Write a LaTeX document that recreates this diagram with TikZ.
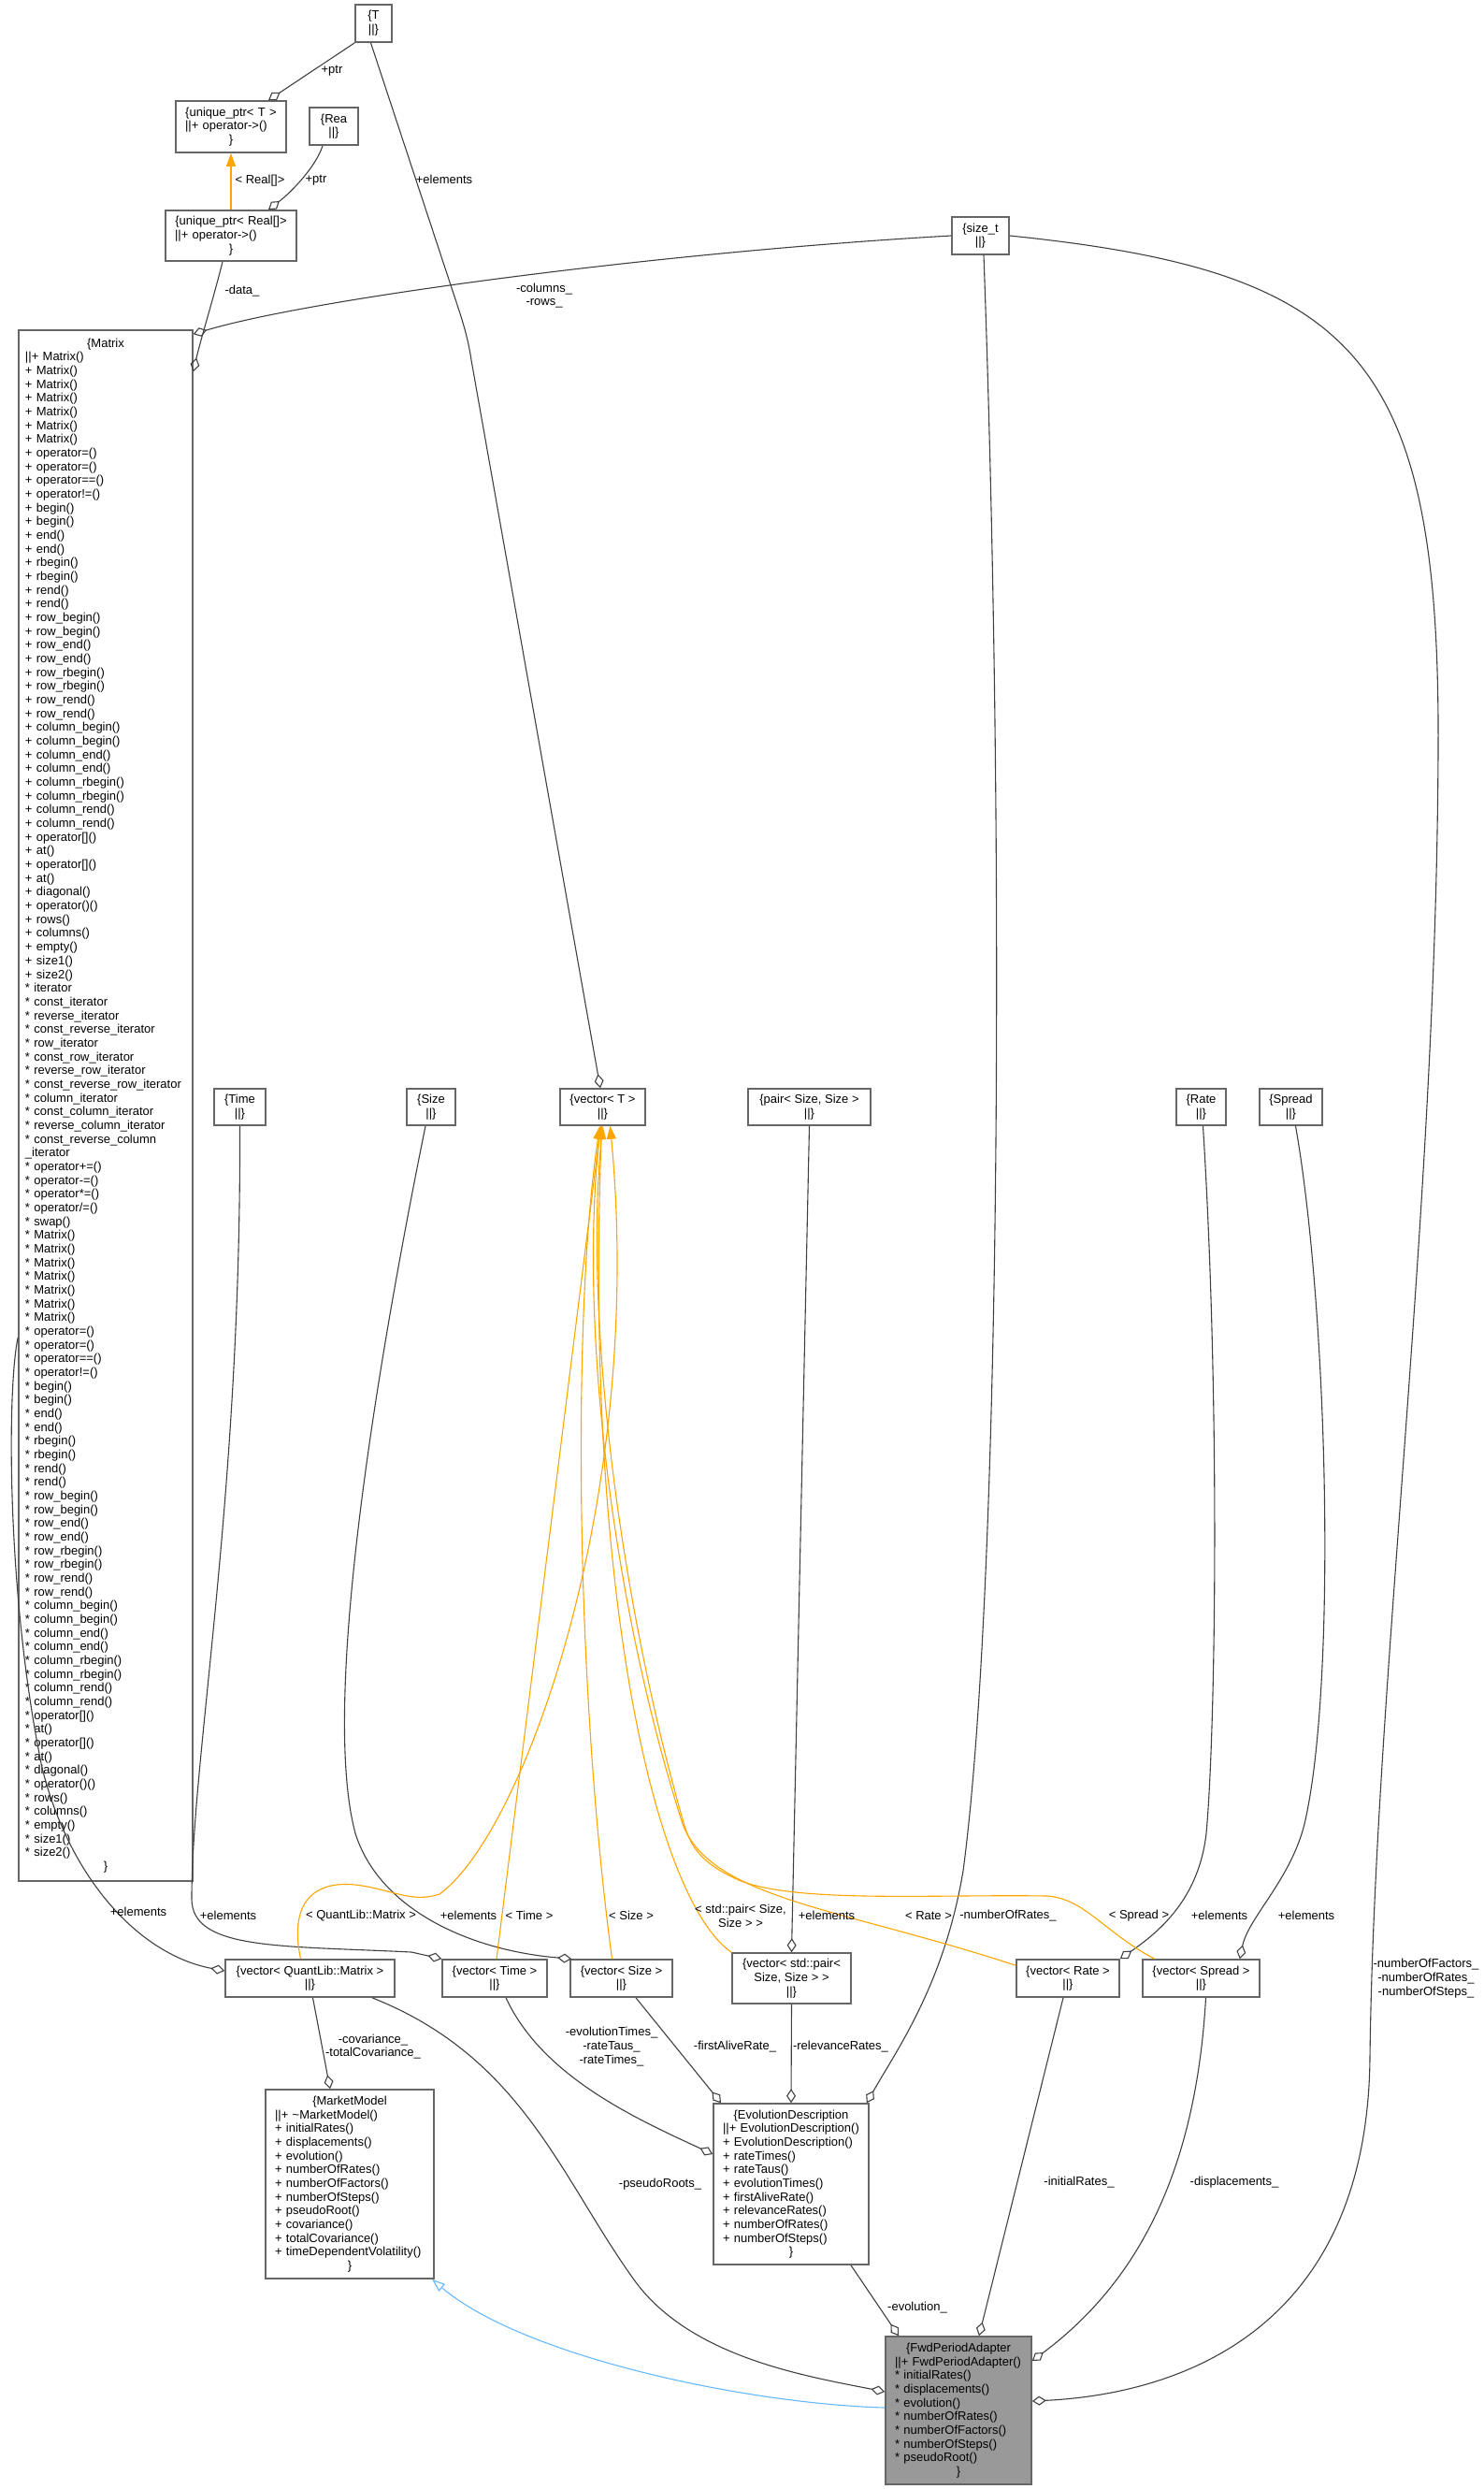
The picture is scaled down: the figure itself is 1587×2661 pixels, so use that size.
\documentclass[tikz,border=0pt]{standalone}
\usepackage{fontspec}
\setmainfont{Liberation Sans}
\usetikzlibrary{arrows.meta}
\definecolor{edgegray}{HTML}{404040}
\definecolor{boxgray}{HTML}{666666}
\definecolor{tplorange}{HTML}{FFA500}
\definecolor{inhblue}{HTML}{63B8FF}
\definecolor{curfill}{HTML}{999999}
\newcommand\ctr[1]{\makebox[\hsize][c]{#1}}
\newcommand\fnt{\fontsize{13}{14.67}\selectfont}
\tikzset{
  cls/.style={draw=boxgray, line width=1.6pt, fill=white, inner sep=0pt, font=\fnt},
  lbl/.style={font=\fnt, inner sep=0pt, align=center},
  agg/.style={draw=edgegray, line width=1.1pt, -{Diamond[open, length=15pt, width=10pt]}},
  tpl/.style={draw=tplorange, line width=1.1pt, -{Triangle[length=14pt, width=10pt]}},
  inh/.style={draw=inhblue, line width=1.1pt, -{Triangle[open, length=14pt, width=10pt]}},
}
\begin{document}
\begin{tikzpicture}[x=1pt, y=-1pt]
    \useasboundingbox (0,0) rectangle (1587,2661);

    % 1. Cac lop o tren cung
    \node[cls, minimum width=39pt, minimum height=40pt, align=center] (nT) at (399.5,25) {\{T\\||\}};
    \node[cls, minimum width=118pt, minimum height=55pt, text width=98pt, align=left] (nUptrT) at (247,135.5)
        {\ctr{\{unique\_ptr< T >}\\||+ operator->()\\\ctr{\}}};
    \node[cls, minimum width=52pt, minimum height=40pt, align=center] (nRea) at (357,135) {\{Rea\\||\}};
    \node[cls, minimum width=140pt, minimum height=54pt, text width=120pt, align=left] (nUptrReal) at (247,252)
        {\ctr{\{unique\_ptr< Real[]>}\\||+ operator->()\\\ctr{\}}};
    \node[cls, minimum width=61pt, minimum height=40pt, align=center] (nSizeT) at (1048.5,252) {\{size\_t\\||\}};

    % 2. Lop Matrix
    \node[cls, inner xsep=7pt, minimum width=186pt, minimum height=1658pt, text width=172pt, align=left] (nMatrix) at (113,1182)
        {\ctr{\{Matrix}\\||+ Matrix()\\+ Matrix()\\+ Matrix()\\+ Matrix()\\+ Matrix()\\+ Matrix()\\+ Matrix()\\
        + operator=()\\+ operator=()\\+ operator==()\\+ operator!=()\\
        + begin()\\+ begin()\\+ end()\\+ end()\\+ rbegin()\\+ rbegin()\\+ rend()\\+ rend()\\
        + row\_begin()\\+ row\_begin()\\+ row\_end()\\+ row\_end()\\+ row\_rbegin()\\+ row\_rbegin()\\+ row\_rend()\\+ row\_rend()\\
        + column\_begin()\\+ column\_begin()\\+ column\_end()\\+ column\_end()\\+ column\_rbegin()\\+ column\_rbegin()\\+ column\_rend()\\+ column\_rend()\\
        + operator[]()\\+ at()\\+ operator[]()\\+ at()\\
        + diagonal()\\+ operator()()\\+ rows()\\+ columns()\\+ empty()\\+ size1()\\+ size2()\\
        {*} iterator\\{*} const\_iterator\\{*} reverse\_iterator\\{*} const\_reverse\_iterator\\{*} row\_iterator\\{*} const\_row\_iterator\\
        {*} reverse\_row\_iterator\\\mbox{{*} const\_reverse\_row\_iterator}\\{*} column\_iterator\\{*} const\_column\_iterator\\
        {*} reverse\_column\_iterator\\{*} const\_reverse\_column\\\_iterator\\
        {*} operator+=()\\{*} operator-=()\\{*} operator*=()\\{*} operator/=()\\{*} swap()\\
        {*} Matrix()\\{*} Matrix()\\{*} Matrix()\\{*} Matrix()\\{*} Matrix()\\{*} Matrix()\\{*} Matrix()\\
        {*} operator=()\\{*} operator=()\\{*} operator==()\\{*} operator!=()\\
        {*} begin()\\{*} begin()\\{*} end()\\{*} end()\\{*} rbegin()\\{*} rbegin()\\{*} rend()\\{*} rend()\\
        {*} row\_begin()\\{*} row\_begin()\\{*} row\_end()\\{*} row\_end()\\{*} row\_rbegin()\\{*} row\_rbegin()\\{*} row\_rend()\\{*} row\_rend()\\
        {*} column\_begin()\\{*} column\_begin()\\{*} column\_end()\\{*} column\_end()\\{*} column\_rbegin()\\{*} column\_rbegin()\\{*} column\_rend()\\{*} column\_rend()\\
        {*} operator[]()\\{*} at()\\{*} operator[]()\\{*} at()\\
        {*} diagonal()\\{*} operator()()\\{*} rows()\\{*} columns()\\{*} empty()\\{*} size1()\\{*} size2()\\
        \ctr{\}}};

    % 3. Hang cac kieu co so
    \node[cls, minimum width=55pt, minimum height=39pt, align=center] (nTime) at (256.5,1183.5) {\{Time\\||\}};
    \node[cls, minimum width=52pt, minimum height=39pt, align=center] (nSize) at (461,1183.5) {\{Size\\||\}};
    \node[cls, minimum width=91pt, minimum height=39pt, align=center] (nVecT) at (644.5,1183.5) {\{vector< T >\\||\}};
    \node[cls, minimum width=131pt, minimum height=39pt, align=center] (nPair) at (865.5,1183.5) {\{pair< Size, Size >\\||\}};
    \node[cls, minimum width=53pt, minimum height=39pt, align=center] (nRate) at (1284.5,1183.5) {\{Rate\\||\}};
    \node[cls, minimum width=67pt, minimum height=39pt, align=center] (nSpread) at (1380.5,1183.5) {\{Spread\\||\}};

    % 4. Hang cac vector
    \node[cls, minimum width=181pt, minimum height=40pt, align=center] (nVecMatrix) at (331.5,2115) {\{vector< QuantLib::Matrix >\\||\}};
    \node[cls, minimum width=112pt, minimum height=40pt, align=center] (nVecTime) at (529,2115) {\{vector< Time >\\||\}};
    \node[cls, minimum width=109pt, minimum height=40pt, align=center] (nVecSize) at (664.5,2115) {\{vector< Size >\\||\}};
    \node[cls, minimum width=127pt, minimum height=54pt, align=center] (nVecPair) at (846.5,2115) {\{vector< std::pair<\\Size, Size > >\\||\}};
    \node[cls, minimum width=110pt, minimum height=40pt, align=center] (nVecRate) at (1142,2115) {\{vector< Rate >\\||\}};
    \node[cls, minimum width=125pt, minimum height=40pt, align=center] (nVecSpread) at (1284.5,2115) {\{vector< Spread >\\||\}};

    % 5. Cac lop o duoi
    \node[cls, minimum width=180pt, minimum height=202pt, text width=160pt, align=left] (nMarket) at (374,2335)
        {\ctr{\{MarketModel}\\||+ \textasciitilde MarketModel()\\+ initialRates()\\+ displacements()\\+ evolution()\\
        + numberOfRates()\\+ numberOfFactors()\\+ numberOfSteps()\\+ pseudoRoot()\\+ covariance()\\
        + totalCovariance()\\+ timeDependentVolatility()\\\ctr{\}}};
    \node[cls, minimum width=166pt, minimum height=172pt, text width=146pt, align=left] (nEvol) at (846,2335)
        {\ctr{\{EvolutionDescription}\\||+ EvolutionDescription()\\+ EvolutionDescription()\\+ rateTimes()\\+ rateTaus()\\
        + evolutionTimes()\\+ firstAliveRate()\\+ relevanceRates()\\+ numberOfRates()\\+ numberOfSteps()\\\ctr{\}}};
    \node[cls, fill=curfill, minimum width=156pt, minimum height=158pt, text width=136pt, align=left] (nFwd) at (1025,2577)
        {\ctr{\{FwdPeriodAdapter}\\||+ FwdPeriodAdapter()\\{*} initialRates()\\{*} displacements()\\{*} evolution()\\
        {*} numberOfRates()\\{*} numberOfFactors()\\{*} numberOfSteps()\\{*} pseudoRoot()\\\ctr{\}}};

    % 6. Quan he thanh vien (thoi kim cuong)
    \draw[agg] (nT.south west) -- ([xshift=40]nUptrT.north);
    \draw[agg] ([xshift=-12]nRea.south) .. controls (338,178) and (312,205) .. ([xshift=40]nUptrReal.north);
    \draw[agg] ([xshift=-9]nUptrReal.south) .. controls (228,320) and (214,365) .. ([yshift=-45]nMatrix.north east);
    \draw[agg] (nSizeT.west) .. controls (700,270) and (330,320) .. ([yshift=-5]nMatrix.north east);
    \draw[agg] ([xshift=-3]nT.south) -- (488,323) .. controls (497,350) and (501,365) .. (504,385) -- ([xshift=-2.5]nVecT.north);
    \draw[agg] ([yshift=-248]nMatrix.west) .. controls (8,1480) and (6,1700) .. (45,1890) .. controls (75,2010) and (150,2090) .. ([yshift=8]nVecMatrix.west);
    \draw[agg] (nTime.south) .. controls (258,1600) and (205,1880) .. (205,2030) .. controls (205,2085) and (300,2080) .. (440,2087) -- (nVecTime.north west);
    \draw[agg] ([xshift=-6]nSize.south) .. controls (395,1500) and (345,1830) .. (380,1960) .. controls (405,2040) and (500,2085) .. ([xshift=2]nVecSize.north west);
    \draw[agg] (nPair.south) -- (nVecPair.north);
    \draw[agg] ([xshift=2]nRate.south) .. controls (1305,1500) and (1300,1850) .. (1290,1960) .. controls (1282,2030) and (1240,2065) .. (nVecRate.north east);
    \draw[agg] ([xshift=5]nSpread.south) .. controls (1420,1400) and (1430,1800) .. (1395,1950) .. controls (1380,2010) and (1335,2050) .. ([xshift=-22]nVecSpread.north east);
    \draw[agg] ([xshift=3]nVecMatrix.south) -- ([xshift=-21]nMarket.north);
    \draw[agg] ([xshift=66.5]nVecMatrix.south) .. controls (560,2200) and (600,2330) .. (680,2440) .. controls (740,2520) and (860,2540) .. ([yshift=20]nFwd.west);
    \draw[agg] ([xshift=12]nVecTime.south) .. controls (580,2220) and (680,2265) .. ([yshift=32]nEvol.west);
    \draw[agg] ([xshift=15.5]nVecSize.south) -- ([xshift=-75]nEvol.north);
    \draw[agg] (nVecPair.south) -- (nEvol.north);
    \draw[agg] ([xshift=3.5]nSizeT.south) .. controls (1075,900) and (1070,1700) .. (1030,2000) .. controls (1010,2120) and (960,2190) .. ([xshift=-3]nEvol.north east);
    \draw[agg] (nSizeT.east) .. controls (1450,290) and (1540,380) .. (1538,800) .. controls (1536,1300) and (1470,1800) .. (1465,2200) .. controls (1462,2500) and (1250,2560) .. ([yshift=10]nFwd.east);
    \draw[agg] ([xshift=64]nEvol.south) -- ([xshift=-64]nFwd.north);
    \draw[agg] ([xshift=-5]nVecRate.south) -- ([xshift=22]nFwd.north);
    \draw[agg] ([xshift=5]nVecSpread.south) .. controls (1280,2300) and (1230,2430) .. ([yshift=53]nFwd.east);

    % 7. Cac the hien mau (cam)
    \draw[tpl] (nUptrReal.north) -- (nUptrT.south);
    \draw[tpl] ([xshift=-10]nVecMatrix.north) .. controls (310,2040) and (330,2010) .. (380,2015) .. controls (420,2020) and (440,2035) .. (470,2025) .. controls (560,1960) and (690,1600) .. ([xshift=8]nVecT.south);
    \draw[tpl] ([xshift=2]nVecTime.north) -- ([xshift=-2]nVecT.south);
    \draw[tpl] ([xshift=-10]nVecSize.north) .. controls (615,1800) and (612,1400) .. ([xshift=-3]nVecT.south);
    \draw[tpl] (nVecPair.north west) .. controls (700,2030) and (625,1700) .. ([xshift=-1]nVecT.south);
    \draw[tpl] ([yshift=-7]nVecRate.north west) .. controls (900,2040) and (760,2030) .. (730,1950) .. controls (650,1700) and (620,1400) .. ([xshift=-2]nVecT.south);
    \draw[tpl] ([xshift=-50]nVecSpread.north) .. controls (1180,2065) and (1160,2030) .. (1120,2027) .. controls (1000,2025) and (850,2035) .. (790,2010) .. controls (750,1992) and (738,1975) .. (730,1945) .. controls (660,1700) and (625,1400) .. (nVecT.south);

    % 8. Ke thua
    \draw[inh] ([yshift=3]nFwd.west) .. controls (800,2570) and (560,2520) .. ([xshift=88]nMarket.south);

    % 9. Nhan
    \node[lbl] (lPtrT) at (355,76) {+ptr};
    \node[lbl] (lPtrReal) at (338,193) {+ptr};
    \node[lbl] (lReal) at (278,193) {< Real[]>};
    \node[lbl] (lData) at (259,311) {-data\_};
    \node[lbl] (lColRow) at (582,316) {-columns\_\\-rows\_};
    \node[lbl] (lElemT) at (475,192) {+elements};
    \node[lbl] (lElemMatrix) at (148,2044) {+elements};
    \node[lbl] (lElemTime) at (244,2048) {+elements};
    \node[lbl] (lElemSize) at (501,2048) {+elements};
    \node[lbl] (lElemPair) at (884,2048) {+elements};
    \node[lbl] (lElemRate) at (1304,2048) {+elements};
    \node[lbl] (lElemSpread) at (1397,2048) {+elements};
    \node[lbl] (lTplMatrix) at (386,2048) {< QuantLib::Matrix >};
    \node[lbl] (lTplTime) at (566,2048) {< Time >};
    \node[lbl] (lTplSize) at (675,2048) {< Size >};
    \node[lbl] (lTplPair) at (792,2048) {< std::pair< Size,\\Size > >};
    \node[lbl] (lTplRate) at (993,2048) {< Rate >};
    \node[lbl] (lTplSpread) at (1218,2048) {< Spread >};
    \node[lbl] (lNumRates) at (1078,2048) {-numberOfRates\_};
    \node[lbl] (lNums) at (1525,2115) {-numberOfFactors\_\\-numberOfRates\_\\-numberOfSteps\_};
    \node[lbl] (lCov) at (399,2188) {-covariance\_\\-totalCovariance\_};
    \node[lbl] (lEvolTimes) at (654,2188) {-evolutionTimes\_\\-rateTaus\_\\-rateTimes\_};
    \node[lbl] (lFirst) at (786,2188) {-firstAliveRate\_};
    \node[lbl] (lRelev) at (899,2188) {-relevanceRates\_};
    \node[lbl] (lPseudo) at (706,2335) {-pseudoRoots\_};
    \node[lbl] (lInit) at (1154,2333) {-initialRates\_};
    \node[lbl] (lDispl) at (1320,2333) {-displacements\_};
    \node[lbl] (lEvol) at (981,2467) {-evolution\_};
\end{tikzpicture}
\end{document}
